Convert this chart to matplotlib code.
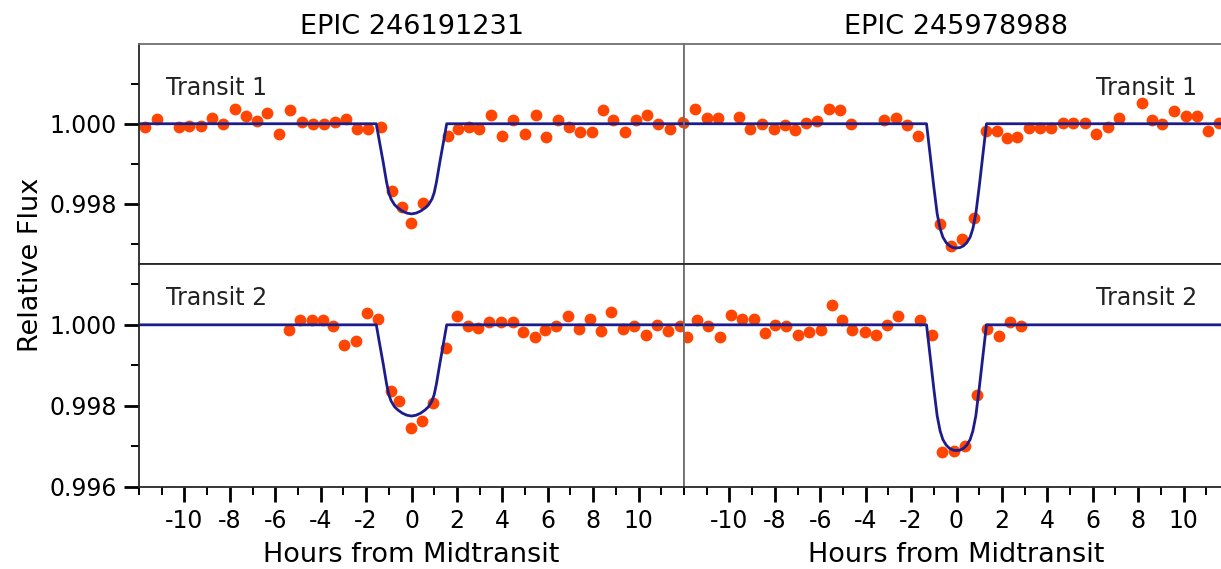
import numpy as np
import matplotlib
matplotlib.use("Agg")
import matplotlib.pyplot as plt
from matplotlib.ticker import MultipleLocator, FormatStrFormatter

plt.rcParams['font.family'] = ['DejaVu Sans']
plt.rcParams['axes.unicode_minus'] = False

# EPIC 246191231, transit 1
t1a_x = [-11.74, -11.22, -10.23, -9.79, -9.29, -8.80, -8.29, -7.78, -7.29, -6.79, -6.35, -5.84,
         -5.35, -4.84, -4.35, -3.85, -3.37, -2.89, -2.41, -1.90, -1.36, -0.87, -0.43, -0.04,
         0.52, 1.59, 2.06, 2.55, 2.99, 3.49, 4.00, 4.48, 5.00, 5.48, 5.93, 6.44, 6.94, 7.42,
         7.94, 8.45, 8.89, 9.41, 9.89, 10.39, 10.87, 11.39, 11.95]
t1a_y = [0.99992, 1.00011, 0.99992, 0.99994, 0.99994, 1.00015, 1.00000, 1.00036, 1.00019, 1.00006,
         1.00027, 0.99975, 1.00035, 1.00004, 1.00000, 1.00000, 1.00004, 1.00011, 0.99987, 0.99987,
         0.99992, 0.99831, 0.99793, 0.99753, 0.99803, 0.99970, 0.99987, 0.99992, 0.99987, 1.00023,
         0.99970, 1.00010, 0.99975, 1.00023, 0.99968, 1.00010, 0.99992, 0.99979, 0.99979, 1.00035,
         1.00010, 0.99979, 1.00010, 1.00023, 1.00000, 0.99987, 1.00004]

# EPIC 246191231, transit 2
t2a_x = [-5.40, -4.91, -4.40, -3.91, -3.47, -2.97, -2.46, -1.97, -1.46, -0.90, -0.54, -0.04,
         0.48, 0.96, 1.52, 1.99, 2.48, 2.92, 3.43, 3.94, 4.45, 4.92, 5.44, 5.88, 6.36, 6.88,
         7.38, 7.86, 8.35, 8.79, 9.31, 9.82, 10.32, 10.80, 11.31, 11.83]
t2a_y = [0.99986, 1.00013, 1.00013, 1.00013, 0.99996, 0.99950, 0.99960, 1.00029, 1.00015, 0.99836,
         0.99812, 0.99746, 0.99762, 0.99807, 0.99942, 1.00021, 0.99998, 0.99993, 1.00008, 1.00008,
         1.00006, 0.99983, 0.99969, 0.99988, 0.99996, 1.00021, 0.99990, 1.00015, 0.99985, 1.00032,
         0.99990, 0.99998, 0.99975, 1.00000, 0.99985, 0.99996]

# EPIC 245978988, transit 1
t1b_x = [-12.05, -11.52, -11.00, -10.50, -9.58, -9.09, -8.55, -8.04, -7.56, -7.12, -6.64, -6.13,
         -5.61, -5.13, -4.63, -3.19, -2.68, -2.19, -1.68, -0.74, -0.24, 0.26, 0.78, 1.29, 1.78,
         2.22, 2.68, 3.20, 3.68, 4.18, 4.70, 5.14, 5.65, 6.14, 6.65, 7.16, 8.15, 8.59, 9.07,
         9.59, 10.10, 10.57, 11.08, 11.54]
t1b_y = [1.00003, 1.00038, 1.00014, 1.00014, 1.00018, 0.99987, 1.00000, 0.99987, 0.99996, 0.99985,
         1.00002, 1.00006, 1.00038, 1.00034, 1.00000, 1.00010, 1.00014, 0.99996, 0.99970, 0.99749,
         0.99696, 0.99713, 0.99765, 0.99983, 0.99981, 0.99964, 0.99968, 0.99989, 0.99989, 0.99989,
         1.00002, 1.00002, 1.00002, 0.99975, 0.99992, 1.00014, 1.00051, 1.00010, 1.00000, 1.00031,
         1.00019, 1.00019, 0.99981, 1.00002]

# EPIC 245978988, transit 2
t2b_x = [-11.85, -11.41, -10.93, -10.43, -9.92, -9.43, -8.92, -8.43, -7.99, -7.49, -6.98, -6.49,
         -5.98, -5.50, -5.06, -4.59, -4.04, -3.53, -3.05, -2.56, -1.60, -1.09, -0.62, -0.11,
         0.38, 0.92, 1.36, 1.85, 2.35, 2.83]
t2b_y = [0.99971, 1.00013, 0.99996, 0.99971, 1.00025, 1.00015, 1.00015, 0.99979, 1.00000, 0.99996,
         0.99975, 0.99983, 0.99986, 1.00048, 1.00013, 0.99986, 0.99982, 0.99975, 1.00000, 1.00021,
         1.00013, 0.99975, 0.99686, 0.99689, 0.99702, 0.99828, 0.99990, 0.99973, 1.00008, 0.99996]

# transit model curves
mod_a_x = [-12, -1.55, -1.4, -1.25, -1.1, -1.0, -0.9, -0.75, -0.6, -0.4, -0.2, 0,
           0.2, 0.4, 0.6, 0.75, 0.9, 1.0, 1.1, 1.25, 1.4, 1.55, 12]
mod_a_y = [1.0, 1.0, 0.99952, 0.99905, 0.99855, 0.99828, 0.99812, 0.99798, 0.99790, 0.99782, 0.99777, 0.99775,
           0.99777, 0.99782, 0.99790, 0.99798, 0.99812, 0.99828, 0.99855, 0.99905, 0.99952, 1.0, 1.0]
mod_b_x = [-12, -1.32, -1.15, -1.0, -0.85, -0.72, -0.6, -0.45, -0.3, -0.15, 0,
           0.15, 0.3, 0.45, 0.6, 0.72, 0.85, 1.0, 1.15, 1.32, 12]
mod_b_y = [1.0, 1.0, 0.99917, 0.99843, 0.99775, 0.99738, 0.99717, 0.99703, 0.99695, 0.99691, 0.99690,
           0.99691, 0.99695, 0.99703, 0.99717, 0.99738, 0.99775, 0.99843, 0.99917, 1.0, 1.0]

titles = ["EPIC 246191231", "EPIC 245978988"]
pt_color = "#ff4500"
line_color = "#1c1c8c"
spine_color = "#707070"
dark_spine = "#262626"

fig = plt.figure(figsize=(12.21, 5.69), dpi=100)
W, H = 1221.0, 569.0
lefts = [139 / W, 684 / W]
aw = 545 / W
top_pos = ((H - 264) / H, 220 / H)
bot_pos = ((H - 487) / H, 223 / H)

panels = [
    (0, 0, t1a_x, t1a_y, mod_a_x, mod_a_y, "Transit 1"),
    (0, 1, t2a_x, t2a_y, mod_a_x, mod_a_y, "Transit 2"),
    (1, 0, t1b_x, t1b_y, mod_b_x, mod_b_y, "Transit 1"),
    (1, 1, t2b_x, t2b_y, mod_b_x, mod_b_y, "Transit 2"),
]

for col, row, xs, ys, mx, my, lab in panels:
    b, h = top_pos if row == 0 else bot_pos
    ax = fig.add_axes([lefts[col], b, aw, h])
    ax.plot(xs, ys, 'o', color=pt_color, ms=8.5, mec='none')
    ax.plot(mx, my, '-', color=line_color, lw=2.0)
    ax.set_xlim(-12, 12)
    if row == 0:
        ax.set_ylim(0.9965, 1.00199)
    else:
        ax.set_ylim(0.996, 1.0015)
    for s in ax.spines.values():
        s.set_color(spine_color)
        s.set_linewidth(1.3)
    # darker frame lines where the reference shows them
    if row == 0:
        ax.spines['bottom'].set_color(dark_spine)
    else:
        ax.spines['top'].set_color(dark_spine)
        ax.spines['bottom'].set_color(dark_spine)
    if col == 0:
        ax.spines['left'].set_color(dark_spine)

    ax.xaxis.set_major_locator(MultipleLocator(2))
    ax.xaxis.set_minor_locator(MultipleLocator(1))
    ax.yaxis.set_major_locator(MultipleLocator(0.002))
    ax.yaxis.set_minor_locator(MultipleLocator(0.001))
    ax.yaxis.set_major_formatter(FormatStrFormatter('%.3f'))
    ax.tick_params(which='major', direction='out', length=11, width=2, color='black', labelsize=17, pad=5)
    ax.tick_params(which='minor', direction='out', length=5.5, width=1.4, color='black')

    if row == 0:
        ax.set_title(titles[col], fontsize=19.5, pad=7)
        ax.tick_params(axis='x', which='both', bottom=False, labelbottom=False)
    else:
        ax.set_xticks([-10, -8, -6, -4, -2, 0, 2, 4, 6, 8, 10])
        ax.set_xlabel("Hours from Midtransit", fontsize=19.5, labelpad=6)
    ty = 0.80 if row == 0 else 0.848
    if col == 1:
        ax.tick_params(axis='y', which='both', left=False, labelleft=False)
        ax.text(0.941, ty, lab, transform=ax.transAxes,
                ha='right', va='center', fontsize=17, color='#222222')
    else:
        ax.text(0.05, ty, lab, transform=ax.transAxes,
                ha='left', va='center', fontsize=17, color='#222222')

fig.text(31 / W, 1 - 265 / H, "Relative Flux", rotation=90, ha='center', va='center', fontsize=19.5)

fig.savefig("out.png", dpi=100)
